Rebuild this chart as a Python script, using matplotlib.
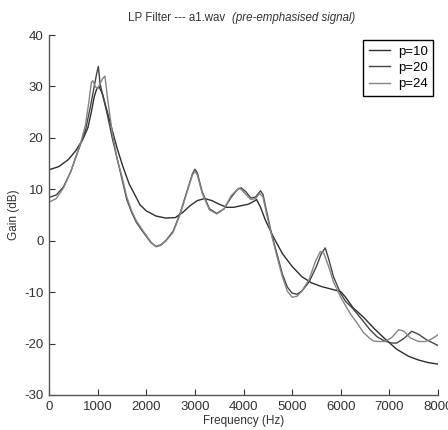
import matplotlib
matplotlib.use("Agg")
import matplotlib.pyplot as plt
from matplotlib import font_manager

# values (Hz, dB)
freq_p10 = [0, 200, 400, 550, 700, 800, 870, 930, 980, 1030, 1100, 1200, 1300, 1400, 1520,
            1650, 1750, 1870, 2000, 2200, 2400, 2600, 2750, 2900, 3050, 3200, 3350, 3500,
            3650, 3800, 3950, 4100, 4200, 4270, 4350, 4450, 4610, 4800, 5000, 5200, 5400,
            5600, 5800, 6000, 6100, 6250, 6470, 6700, 6900, 7150, 7400, 7600, 7800, 8000]
gain_p10 = [13.8, 14.4, 15.8, 17.5, 19.8, 22, 25, 28, 29.5, 30, 28.5, 25, 21.5, 18, 14.4,
            11, 9.2, 7, 5.8, 4.8, 4.4, 4.5, 5.5, 6.8, 7.8, 8.2, 7.8, 7.1,
            6.5, 6.5, 6.8, 7.1, 7.6, 8, 6.5, 4, 0.8, -2.5, -5, -7, -8.2,
            -8.9, -9.4, -9.9, -11, -13, -14.9, -17.2, -19, -21.1, -22.5, -23.2, -23.7, -24]

freq_p20 = [0, 150, 300, 450, 550, 650, 750, 850, 930, 980, 1015, 1050, 1100, 1150, 1200,
            1300, 1400, 1500, 1600, 1700, 1800, 1950, 2100, 2200, 2300, 2400, 2550, 2700,
            2850, 2950, 3000, 3050, 3150, 3300, 3450, 3600, 3750, 3880, 3950, 4050, 4150,
            4250, 4350, 4400, 4480, 4580, 4700, 4800, 4900, 5000, 5100, 5200, 5350, 5500,
            5600, 5680, 5750, 5850, 6000, 6100, 6250, 6450, 6600, 6750, 6900, 7050, 7150,
            7300, 7460, 7600, 7770, 7900, 8000]
gain_p20 = [8.4, 8.9, 10.5, 13.5, 16.2, 18.8, 21.5, 26, 30, 32.5, 33.9, 30.5, 28.5, 26.5, 24.5,
            20, 16, 12, 8, 5.5, 3.5, 1.5, -0.4, -1.1, -0.8, 0, 1.8, 5.4,
            10, 13, 13.9, 13.2, 9.5, 6.2, 5.3, 6.2, 8.5, 10, 10.3, 9.5, 8.3,
            8.5, 9.7, 9, 5.5, 1.2, -3, -6.5, -9, -10.2, -10.4, -9.8, -8, -5,
            -2.5, -1.4, -3.5, -7, -10.3, -11.8, -13.2, -15.5, -17.3, -18.7, -19.5, -19.9, -19.9,
            -19, -17.6, -18.2, -19.3, -19.9, -20.4]

freq_p24 = [0, 150, 300, 450, 550, 650, 750, 820, 870, 900, 950, 1000, 1050, 1100, 1150,
            1200, 1300, 1400, 1500, 1600, 1700, 1800, 1950, 2100, 2200, 2300, 2400, 2550,
            2700, 2850, 2950, 3000, 3050, 3150, 3300, 3450, 3600, 3750, 3900, 3950, 4050,
            4150, 4250, 4330, 4400, 4480, 4580, 4700, 4800, 4900, 5000, 5100, 5200, 5350,
            5480, 5580, 5650, 5750, 5850, 6000, 6190, 6350, 6470, 6600, 6670, 6800, 6910,
            7050, 7190, 7300, 7430, 7600, 7740, 7850, 8000]
gain_p24 = [7.5, 8.2, 10.3, 13.5, 16.3, 19, 22.5, 27, 30.8, 31.1, 30, 29.5, 30.5, 31.5, 32,
            28, 21, 16, 12.5, 8.5, 5.8, 3.8, 1.7, -0.3, -1.2, -0.9, -0.1, 1.6,
            5.2, 9.8, 12.8, 13.5, 12.8, 9.2, 6, 5.2, 6.2, 8.8, 10.2, 10, 9,
            8, 8.2, 9.2, 8.5, 5, 1, -3.5, -7, -9.8, -11, -10.8, -9.8, -7.5,
            -4, -2.1, -2.4, -5, -8, -11, -14.1, -16.2, -17.9, -19, -19.5, -19.6, -19.6,
            -18.8, -17.3, -17.6, -18.9, -19.6, -19.6, -19.2, -18.3]

x_ticks = [0, 1000, 2000, 3000, 4000, 5000, 6000, 7000, 8000]
y_ticks = [-30, -20, -10, 0, 10, 20, 30, 40]

names = [f.name for f in font_manager.fontManager.ttflist]
fam = 'Liberation Sans Narrow' if 'Liberation Sans Narrow' in names else 'Liberation Sans'
plt.rcParams['font.family'] = [fam, 'DejaVu Sans']
plt.rcParams['axes.unicode_minus'] = False

fig = plt.figure(figsize=(4.48, 4.30), dpi=100)
ax = fig.add_axes([0.1094, 0.0814, 0.8683, 0.8372])

ax.plot(freq_p10, gain_p10, color='#2e2e2e', lw=1.0, label='p=10')
ax.plot(freq_p20, gain_p20, color='#454545', lw=1.0, label='p=20')
ax.plot(freq_p24, gain_p24, color='#858585', lw=1.0, label='p=24')

ax.set_xlim(0, 8000)
ax.set_ylim(-30, 40)
ax.set_xticks(x_ticks)
ax.set_yticks(y_ticks)
ax.tick_params(direction='in', length=4, width=0.8, colors='#333333', labelsize=9.5, pad=4)
for side in ['top', 'right']:
    ax.spines[side].set_visible(False)
for side in ['left', 'bottom']:
    ax.spines[side].set_color('#555555')
    ax.spines[side].set_linewidth(1.0)

ax.set_xlabel('Frequency (Hz)', fontsize=8.5, labelpad=2, color='#333333')
ax.set_ylabel('Gain (dB)', fontsize=8.5, color='#333333')
ax.yaxis.set_label_coords(-0.075, 0.5)

leg = ax.legend(loc='upper right', bbox_to_anchor=(0.987, 0.985), borderaxespad=0,
                fontsize=9.5, handlelength=1.6, handletextpad=0.6, borderpad=0.4,
                labelspacing=0.3, fancybox=False, framealpha=1)
leg.get_frame().set_edgecolor('black')
leg.get_frame().set_linewidth(1.0)

# title: plain part followed by italic part on the same line
t1 = fig.text(128 / 448, 0.958, 'LP Filter --- a1.wav', ha='left', va='center',
              fontsize=8.3, color='#333333')
r = fig.canvas.get_renderer()
x_end = t1.get_window_extent(r).x1 + 7
fig.text(x_end / 448, 0.958, '(pre-emphasised signal)', ha='left', va='center',
         fontsize=8.3, style='italic', color='#333333')

fig.savefig('out.png', dpi=100)
